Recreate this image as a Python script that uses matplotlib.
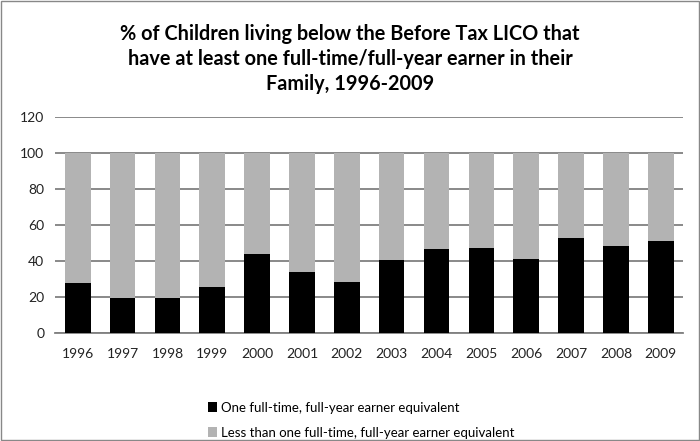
import matplotlib.pyplot as plt
import numpy as np

plt.rcParams['font.family'] = ['Lato', 'DejaVu Sans']

years = ['1996', '1997', '1998', '1999', '2000', '2001', '2002',
         '2003', '2004', '2005', '2006', '2007', '2008', '2009']
# share with at least one full-time, full-year earner (%)
full_earner = [27.5, 19.4, 19.4, 25.5, 44.0, 33.7, 28.1,
               40.7, 46.8, 47.4, 41.3, 53.0, 48.2, 50.9]
less_than_full = [100 - v for v in full_earner]

labels = ['One full-time, full-year earner equivalent',
          'Less than one full-time, full-year earner equivalent']

fig = plt.figure(figsize=(7, 4.41), dpi=100)
ax = fig.add_axes([0.079, 0.245, 0.897, 0.49])

x = np.arange(len(years))
b1 = ax.bar(x, full_earner, width=0.57, color='black', zorder=3, label=labels[0])
b2 = ax.bar(x, less_than_full, width=0.57, bottom=full_earner, color='#b3b3b3',
            zorder=3, label=labels[1])

ax.set_xlim(-0.5, len(years) - 0.5)
ax.set_ylim(0, 120)
ax.set_yticks(range(0, 121, 20))
ax.set_xticks(x)
ax.set_xticklabels(years)
ax.tick_params(axis='both', length=0, labelsize=10, colors='#222222')
ax.tick_params(axis='x', pad=11)
ax.tick_params(axis='y', pad=8)
ax.yaxis.grid(True, color='#808080', linewidth=1.3, zorder=0)
for s in ['top', 'right', 'left']:
    ax.spines[s].set_visible(False)
ax.spines['bottom'].set_color('#808080')
ax.spines['bottom'].set_linewidth(1.3)

fig.text(0.5, 0.945, '% of Children living below the Before Tax LICO that\n'
         'have at least one full-time/full-year earner in their\n'
         'Family, 1996-2009', ha='center', va='top', fontsize=14.3,
         fontweight='bold', linespacing=1.3)

fig.legend(handles=[b1, b2], loc='upper left', bbox_to_anchor=(0.289, 0.101),
           frameon=False, fontsize=9.5, handlelength=0.75, handleheight=0.75,
           handletextpad=0.25, labelspacing=1.0, borderaxespad=0)

# thin frame around the whole chart
fig.patches.append(plt.Rectangle((0.002, 0.002), 0.996, 0.996, transform=fig.transFigure,
                                 fill=False, edgecolor='#888888', linewidth=1))

fig.savefig('out.png', dpi=100)
